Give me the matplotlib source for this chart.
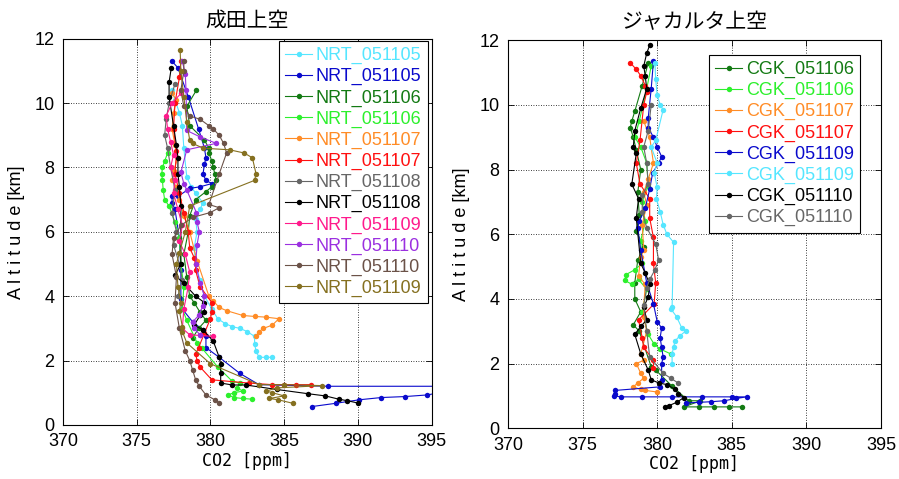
import matplotlib
matplotlib.use("Agg")
import matplotlib.pyplot as plt

plt.rcParams["font.family"] = ["Liberation Sans", "Noto Sans CJK JP", "DejaVu Sans"]

# ── 成田 (NRT) profiles ──────────────────────────────────────────
nrt_labels = ["NRT_051105", "NRT_051105", "NRT_051106", "NRT_051106",
              "NRT_051107", "NRT_051107", "NRT_051108", "NRT_051108",
              "NRT_051109", "NRT_051110", "NRT_051110", "NRT_051109"]
nrt_colors = ["#55e6ff", "#0a0acc", "#137a13", "#2cf02c", "#ff8c26", "#ff1010",
              "#666666", "#000000", "#ff1a8c", "#9b30e0", "#6b5248", "#857020"]

nrt1_co2 = [377.4, 377.6, 377.9, 378.1, 378.2, 378.4, 378.7, 379.0, 379.5, 379.3, 379.0, 379.1, 378.9, 379.0,
            379.3, 379.6, 380.1, 380.5, 381.0, 381.5, 382.0, 382.5, 383.0, 383.0, 383.1, 383.3, 383.8, 384.2]
nrt1_alt = [10.4, 10.1, 9.7, 9.3, 8.6, 7.7, 7.4, 7.2, 6.9, 6.7, 6.4, 6.0, 5.5, 5.0,
            4.5, 4.0, 3.6, 3.3, 3.15, 3.05, 3.0, 2.9, 2.75, 2.5, 2.3, 2.1, 2.1, 2.1]

nrt2_co2 = [377.4, 377.8, 378.5, 379.2, 379.6, 379.7, 379.6, 379.5, 379.7, 380.1, 379.3, 378.6, 377.8, 377.4,
            377.4, 377.6, 377.9, 378.0, 378.0, 378.1, 378.8, 379.5, 379.7, 379.7, 380.6, 382.0, 383.3, 388.0,
            398.0, 394.7, 393.2, 391.6, 390.1, 388.5, 386.9]
nrt2_alt = [11.3, 11.1, 10.2, 9.2, 8.6, 8.3, 8.1, 7.8, 7.6, 7.5, 7.4, 7.35, 7.1, 7.1,
            6.9, 6.7, 5.8, 4.8, 3.9, 3.6, 3.2, 2.95, 2.75, 2.4, 2.1, 1.6, 1.25, 1.2,
            1.2, 0.93, 0.88, 0.85, 0.78, 0.67, 0.57]

nrt3_co2 = [379.05, 378.4, 378.6, 379.6, 379.9, 379.9, 380.1, 380.2, 380.3, 380.4, 380.1, 379.7, 379.0,
            378.6, 378.5, 378.2, 378.4, 378.6, 378.9, 379.3, 379.7, 379.2, 378.8]
nrt3_alt = [10.4, 9.9, 9.3, 8.85, 8.6, 8.45, 8.2, 8.0, 7.8, 7.6, 7.4, 7.25, 7.0,
            6.5, 6.0, 5.3, 4.6, 4.0, 3.8, 3.5, 3.25, 3.0, 2.7]

nrt4_co2 = [377.1, 376.9, 376.75, 376.7, 376.75, 376.8, 376.9, 377.2, 377.6, 377.9, 378.0, 378.2, 378.1,
            378.4, 379.1, 379.4, 380.5, 381.5, 382.0, 381.8, 382.2, 381.6, 381.2, 381.6, 382.2, 382.8]
nrt4_alt = [8.45, 8.2, 8.0, 7.8, 7.6, 7.3, 7.0, 6.8, 6.3, 5.8, 5.0, 4.3, 3.6,
            3.25, 2.55, 2.4, 1.8, 1.35, 1.3, 1.15, 1.05, 1.0, 0.93, 0.85, 0.82, 0.8]

nrt5_co2 = [377.4, 377.7, 377.5, 377.4, 377.6, 377.8, 377.5, 377.4, 377.7, 377.9, 378.2, 378.6, 379.1,
            379.9, 380.2, 380.6, 381.1, 382.2, 383.0, 383.75, 384.65, 384.2, 383.6, 383.3, 383.1]
nrt5_alt = [10.3, 10.1, 9.7, 9.2, 8.7, 8.3, 7.9, 7.6, 7.4, 7.0, 6.5, 6.0, 5.1,
            4.0, 3.85, 3.65, 3.55, 3.4, 3.37, 3.35, 3.3, 3.1, 3.0, 2.9, 2.75]

nrt6_co2 = [378.0, 377.9, 377.6, 377.5, 377.7, 377.6, 377.9, 378.2, 378.5, 378.6, 378.9, 379.0, 379.0, 379.3,
            380.1, 380.1, 380.0, 379.6, 379.2, 379.0, 379.1, 379.3, 380.1, 382.6, 384.2, 385.0, 385.8, 386.8]
nrt6_alt = [11.3, 10.8, 10.0, 9.2, 8.5, 7.8, 7.2, 6.6, 6.0, 5.5, 5.2, 5.0, 4.8, 4.3,
            3.8, 3.5, 3.3, 2.85, 2.4, 2.2, 2.0, 1.8, 1.4, 1.3, 1.25, 1.25, 1.25, 1.25]

nrt7_co2 = [377.6, 377.2, 377.0, 376.9, 377.1, 377.3, 377.6, 377.4, 377.7, 377.5, 377.9, 378.1, 377.8]
nrt7_alt = [10.6, 10.0, 9.5, 9.0, 8.6, 8.0, 7.3, 6.6, 6.0, 5.6, 5.0, 4.5, 4.0]

nrt8_co2 = [377.35, 377.2, 377.2, 377.5, 377.7, 377.8, 377.8, 377.9, 378.0, 378.0, 377.6, 378.2, 379.0, 379.6,
            379.6, 379.3, 378.9, 379.5, 380.2, 380.6, 380.7, 380.7, 380.7, 381.5, 382.4, 384.5, 386.6, 387.8,
            388.7, 389.3, 390.0]
nrt8_alt = [11.1, 10.65, 10.2, 9.3, 8.7, 8.3, 7.8, 7.4, 6.8, 5.0, 4.65, 4.4, 4.0, 3.8,
            3.5, 3.4, 3.1, 2.95, 2.6, 2.1, 1.9, 1.6, 1.3, 1.24, 1.24, 1.1, 0.97, 0.9,
            0.8, 0.75, 0.68]

nrt9_co2 = [378.0, 377.4, 377.0, 377.1, 377.3, 377.5, 377.3, 377.6, 377.5, 377.8, 378.1, 377.9, 378.3, 378.6,
            378.5, 378.2, 378.1, 378.6, 379.3, 380.2]
nrt9_alt = [10.3, 10.0, 9.6, 9.2, 8.8, 8.4, 8.0, 7.6, 7.2, 6.7, 6.2, 5.7, 5.3, 4.75,
            4.3, 3.6, 3.0, 2.8, 2.78, 2.75]

nrt10_co2 = [378.1, 378.3, 378.35, 378.4, 379.3, 380.4, 378.4, 378.0, 378.2, 378.4, 379.05, 379.1, 379.25,
             379.1, 379.0, 379.3, 379.6, 379.5, 379.2, 378.8, 378.9, 379.3]
nrt10_alt = [11.3, 10.9, 10.4, 9.15, 8.95, 8.75, 8.55, 7.85, 7.5, 7.3, 6.6, 6.3, 6.0,
             5.6, 5.0, 4.4, 4.0, 3.7, 3.4, 3.2, 3.0, 2.8]

nrt11_co2 = [378.2, 378.2, 378.0, 378.2, 378.6, 379.3, 379.9, 380.2, 380.6, 380.9, 381.1, 380.6, 379.9, 380.6,
             380.0, 378.8, 378.0, 377.5, 377.4, 377.7, 377.6, 377.9, 378.3, 378.6, 378.8, 379.0, 379.25,
             379.7, 380.3, 380.6]
nrt11_alt = [11.3, 11.0, 10.4, 9.9, 9.6, 9.5, 9.3, 9.2, 9.0, 8.75, 8.45, 7.8, 6.85, 6.75,
             6.6, 6.45, 6.2, 5.8, 5.3, 4.6, 3.8, 3.0, 2.3, 2.0, 1.7, 1.4, 1.2,
             0.93, 0.78, 0.68]

nrt12_co2 = [377.95, 378.0, 378.2, 378.4, 378.6, 378.8, 379.5, 381.3, 382.3, 382.85, 383.1, 383.0, 378.6,
             378.3, 377.9, 377.7, 377.8, 378.0, 377.9, 378.1, 378.1, 378.4, 380.0, 383.3, 385.0, 387.6,
             384.5, 383.8, 384.2, 385.0, 384.0, 384.6, 385.6]
nrt12_alt = [11.65, 11.0, 10.2, 9.4, 8.85, 8.75, 8.6, 8.55, 8.45, 8.3, 7.8, 7.6, 6.8,
             6.0, 5.35, 5.0, 4.3, 3.8, 3.55, 3.05, 2.9, 2.55, 1.9, 1.25, 1.25, 1.22,
             1.15, 1.05, 1.0, 0.9, 0.82, 0.78, 0.67]

nrt_co2 = [nrt1_co2, nrt2_co2, nrt3_co2, nrt4_co2, nrt5_co2, nrt6_co2,
           nrt7_co2, nrt8_co2, nrt9_co2, nrt10_co2, nrt11_co2, nrt12_co2]
nrt_alt = [nrt1_alt, nrt2_alt, nrt3_alt, nrt4_alt, nrt5_alt, nrt6_alt,
           nrt7_alt, nrt8_alt, nrt9_alt, nrt10_alt, nrt11_alt, nrt12_alt]

# ── ジャカルタ (CGK) profiles ────────────────────────────────────
cgk_labels = ["CGK_051106", "CGK_051106", "CGK_051107", "CGK_051107",
              "CGK_051109", "CGK_051109", "CGK_051110", "CGK_051110"]
cgk_colors = ["#137a13", "#2cf02c", "#ff8c26", "#ff1010",
              "#0a0acc", "#55e6ff", "#000000", "#666666"]

cgk1_co2 = [379.4, 379.0, 378.5, 378.3, 378.2, 378.4, 378.6, 378.9, 378.7, 378.8, 378.6, 379.1, 378.7, 378.5,
            378.5, 378.9, 378.4, 378.8, 379.6, 379.9, 381.0, 382.1, 382.9, 381.8, 382.8, 383.8, 384.8, 385.7]
cgk1_alt = [11.3, 10.6, 9.8, 9.5, 9.3, 9.0, 8.6, 8.0, 7.3, 6.6, 6.1, 5.6, 5.2, 4.5,
            4.0, 3.6, 3.2, 3.0, 1.9, 1.8, 1.3, 0.85, 0.85, 0.66, 0.66, 0.66, 0.66, 0.66]

cgk2_co2 = [379.6, 379.3, 378.8, 378.5, 378.9, 379.3, 379.4, 379.0, 379.2, 378.9, 379.0, 378.5, 377.9, 377.85,
            378.3, 378.75, 379.3, 379.0, 379.4, 379.8, 380.2, 380.9]
cgk2_alt = [11.2, 10.5, 9.5, 9.0, 8.7, 8.2, 7.5, 7.0, 6.4, 5.8, 5.1, 4.9, 4.75, 4.57,
            4.45, 4.6, 4.3, 3.6, 2.9, 2.6, 2.45, 2.3]

cgk3_co2 = [379.1, 379.5, 379.75, 379.4, 379.1, 379.3, 379.0, 379.1, 378.9, 378.75, 379.2, 379.1, 379.1, 379.3,
            378.9, 379.1, 378.6, 378.9, 379.1, 378.7, 378.4, 378.9, 379.2, 380.0]
cgk3_alt = [9.5, 9.0, 8.2, 7.7, 7.3, 6.9, 6.3, 5.5, 5.3, 4.7, 4.45, 3.75, 3.45, 3.0,
            2.3, 2.1, 2.0, 1.7, 1.55, 1.4, 1.28, 1.2, 1.17, 1.12]

cgk4_co2 = [378.2, 378.6, 378.9, 379.2, 379.3, 379.1, 378.85, 378.6, 378.85, 379.5, 379.5, 379.75, 379.75,
            379.9, 379.8, 378.75, 379.0, 379.1, 379.75, 379.75]
cgk4_alt = [11.3, 11.1, 10.9, 10.6, 10.4, 10.0, 8.9, 8.2, 7.55, 7.1, 6.5, 5.9, 5.1,
            4.5, 3.85, 3.35, 2.8, 2.5, 2.1, 1.85]

cgk5_co2 = [379.75, 379.6, 379.4, 379.4, 379.75, 380.0, 380.3, 380.1, 379.7, 379.5, 379.2, 378.8, 378.7,
            378.9, 379.3, 379.75, 380.0, 380.3, 380.2, 380.3, 380.4, 380.3, 380.3, 380.2, 377.2, 377.2,
            377.1, 377.6, 379.0, 381.0, 383.0, 385.0, 386.0, 385.3, 384.5, 383.6, 382.8, 381.9]
cgk5_alt = [11.35, 10.5, 9.6, 9.3, 9.0, 8.7, 8.4, 8.2, 7.9, 7.4, 6.8, 6.4, 6.2,
            5.5, 4.5, 3.85, 3.3, 3.1, 2.8, 2.5, 2.2, 2.0, 1.5, 1.28, 1.17, 1.05,
            1.0, 0.97, 0.97, 0.97, 0.97, 0.97, 0.97, 0.92, 0.85, 0.82, 0.8, 0.78]

cgk6_co2 = [379.85, 379.9, 380.0, 380.2, 380.4, 379.9, 379.6, 380.0, 379.8, 380.0, 379.95, 380.2, 380.4,
            380.65, 381.1, 381.0, 380.9, 381.3, 381.65, 381.9, 381.5, 381.2, 381.1, 381.0, 381.0]
cgk6_alt = [11.3, 10.8, 10.3, 10.0, 9.85, 8.9, 8.7, 8.2, 7.9, 7.45, 7.1, 6.7, 6.3,
            6.0, 5.75, 3.75, 3.7, 3.45, 3.1, 3.0, 2.85, 2.7, 2.5, 2.3, 2.0]

cgk7_co2 = [379.5, 379.3, 379.1, 379.2, 379.3, 378.9, 378.5, 378.4, 378.6, 378.3, 378.75, 378.6, 378.9,
            379.2, 379.5, 379.4, 379.1, 379.3, 378.9, 378.5, 378.9, 379.4, 379.6, 380.1, 380.65, 381.2,
            381.4, 381.8, 381.3, 380.8, 380.5]
cgk7_alt = [11.85, 11.6, 11.2, 10.9, 10.5, 9.9, 9.2, 8.7, 8.5, 7.55, 7.1, 6.5, 5.1,
            4.8, 4.45, 4.05, 3.75, 3.35, 3.15, 2.9, 2.3, 1.8, 1.5, 1.4, 1.35, 1.2,
            1.07, 0.95, 0.8, 0.7, 0.65]

cgk8_co2 = [379.6, 379.4, 379.1, 379.3, 379.4, 379.0, 379.0, 379.3, 379.9, 380.1, 379.85, 379.5, 379.3,
            379.1, 379.3, 379.5, 380.4, 380.9, 381.4]
cgk8_alt = [10.0, 9.2, 8.7, 8.2, 7.55, 7.2, 6.7, 6.2, 5.7, 5.2, 4.9, 4.6, 4.35,
            3.8, 3.0, 2.2, 1.7, 1.55, 1.4]

cgk_co2 = [cgk1_co2, cgk2_co2, cgk3_co2, cgk4_co2, cgk5_co2, cgk6_co2, cgk7_co2, cgk8_co2]
cgk_alt = [cgk1_alt, cgk2_alt, cgk3_alt, cgk4_alt, cgk5_alt, cgk6_alt, cgk7_alt, cgk8_alt]

x_ticks = [370, 375, 380, 385, 390, 395]
y_ticks = [0, 2, 4, 6, 8, 10, 12]

fig = plt.figure(figsize=(8.99, 4.79), dpi=100)
ax1 = fig.add_axes([0.070, 0.113, 0.410, 0.806])
ax2 = fig.add_axes([0.565, 0.106, 0.415, 0.810])


def draw_panel(ax, co2s, alts, labels, colors, title, legend_anchor):
    for c, a, lab, col in zip(co2s, alts, labels, colors):
        ax.plot(c, a, "-", color=col, lw=0.8, marker="o", ms=3.9, mew=0, label=lab)
    ax.set_xlim(370, 395)
    ax.set_ylim(0, 12)
    ax.set_xticks(x_ticks)
    ax.set_yticks(y_ticks)
    ax.tick_params(direction="in", top=True, right=True, length=4, width=0.6, labelsize=13, pad=6)
    ax.grid(True, color="black", linestyle=(0, (1, 2)), linewidth=0.6)
    for s in ax.spines.values():
        s.set_linewidth(0.8)
    ax.set_title(title, fontsize=15, family=["Noto Sans CJK JP"], pad=9)
    ax.set_xlabel("CO2 [ppm]", fontsize=12, family=["DejaVu Sans Mono"], labelpad=1)
    ax.set_ylabel("A l t i t u d e [km]", fontsize=13, labelpad=7)
    leg = ax.legend(loc="upper right", bbox_to_anchor=legend_anchor, frameon=True, fontsize=13,
                    fancybox=False, edgecolor="black", framealpha=1, handlelength=1.5,
                    handletextpad=0.2, labelspacing=0.22, borderpad=0.35, borderaxespad=0)
    leg.get_frame().set_linewidth(0.8)
    for txt, col in zip(leg.get_texts(), colors):
        txt.set_color(col)


draw_panel(ax1, nrt_co2, nrt_alt, nrt_labels, nrt_colors, "成田上空", (0.99, 0.995))
draw_panel(ax2, cgk_co2, cgk_alt, cgk_labels, cgk_colors, "ジャカルタ上空", (0.944, 0.963))

fig.savefig("out.png", dpi=100)
